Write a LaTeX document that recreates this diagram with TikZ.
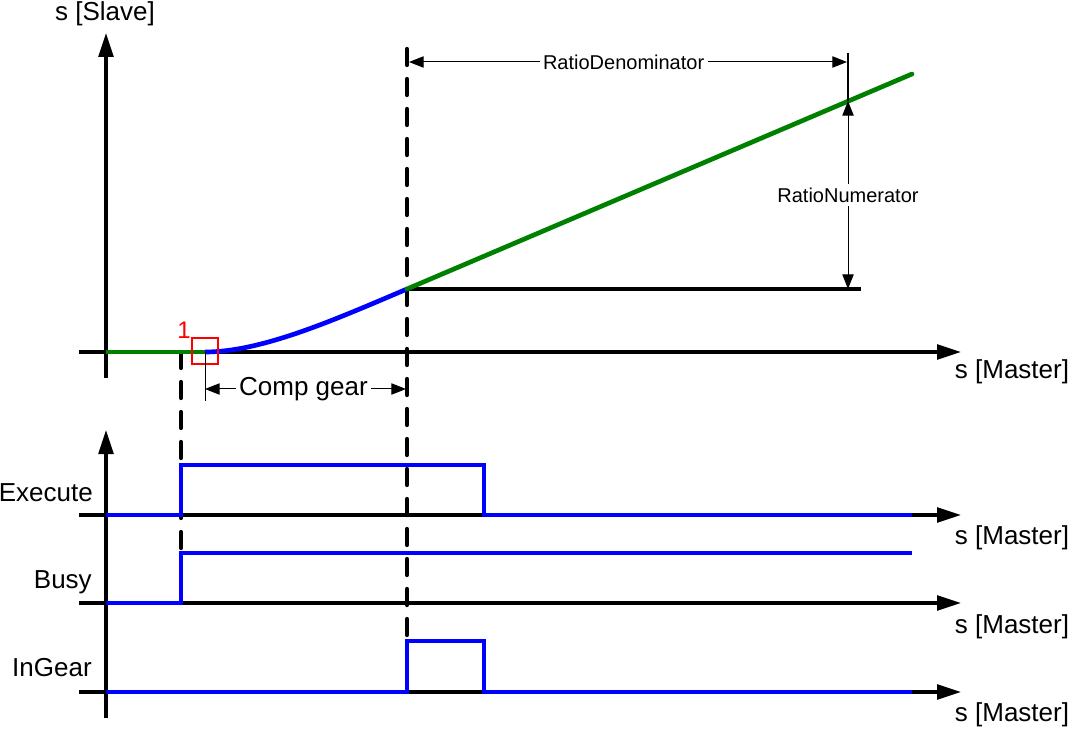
\documentclass[tikz,border=0pt]{standalone}
\usepackage{fontspec}
\setmainfont{Liberation Sans}
\usetikzlibrary{arrows.meta}
\definecolor{sigblue}{RGB}{0,0,255}
\definecolor{siggreen}{RGB}{0,128,0}
\definecolor{sigred}{RGB}{255,0,0}
\begin{document}
\begin{tikzpicture}[x=0.75pt,y=-0.75pt,
  axisline/.style={line width=2.5pt,-{Triangle[length=18pt,width=11pt]}},
  baseline/.style={line width=2.5pt},
  sig/.style={line width=3.4pt,draw=sigblue,line join=miter},
  slope/.style={line width=3.5pt,draw=siggreen},
  dashline/.style={line width=3.2pt,dash pattern=on 12pt off 10.5pt,line cap=round},
  dim/.style={line width=0.75pt,{Triangle[length=11pt,width=8.5pt]}-{Triangle[length=11pt,width=8.5pt]}},
  tick/.style={line width=0.75pt},
  lbl/.style={font=\fontsize{19.5}{23}\selectfont,inner sep=0pt},
  dimlbl/.style={font=\fontsize{15}{18}\selectfont,fill=white,inner sep=2.5pt},
  bigdimlbl/.style={font=\fontsize{19.5}{23}\selectfont,fill=white,inner sep=2.5pt}
]
\useasboundingbox (0,0) rectangle (1070,730);

% ---------- upper diagram ----------
\coordinate (yaxB) at (106,378);
\coordinate (yaxT) at (106,33);
\coordinate (xaxL) at (79,352);
\coordinate (xaxR) at (961,352);
\draw[axisline] (yaxB) -- (yaxT);
\draw[axisline] (xaxL) -- (xaxR);
\node[lbl] (slavelbl) at (105,14) {s [Slave]};
\node[lbl] (master0) at (1012,372) {s [Master]};

% dashed marker lines
\coordinate (d1T) at (181,352);
\coordinate (d1B) at (181,553);
\coordinate (d2T) at (407,49);
\coordinate (d2B) at (407,641);
\draw[dashline] (d1T) -- (d1B);
\draw[dashline] (d2T) -- (d2B);

% reference level line
\coordinate (refL) at (407,289);
\coordinate (refR) at (861,289);
\draw[baseline] (refL) -- (refR);

% curves
\coordinate (g0) at (106,352);
\coordinate (g1) at (205,352);
\coordinate (g2) at (407,289);
\coordinate (g3) at (912,74);
\draw[slope] (g0) -- (g1);
\draw[line width=3.5pt,draw=sigblue] (g1) .. controls (262,352) and (335,319.6) .. (g2);
\draw[slope,line cap=round] (g2) -- (g3);

% red marker
\node[draw=sigred,line width=2pt,minimum width=19.5pt,minimum height=19.5pt,inner sep=0pt] (mark) at (205,351) {};
\node[font=\fontsize{18}{21}\selectfont,text=sigred,inner sep=0pt] (marknum) at (184,330) {1};

% RatioDenominator
\coordinate (rtT) at (848,53);
\coordinate (rtB) at (848,101);
\draw[line width=2.2pt] (rtT) -- (rtB);
\coordinate (rdL) at (409,62);
\coordinate (rdR) at (847,62);
\draw[dim] (rdL) -- node[dimlbl,pos=0.49] (rdlbl) {RatioDenominator} (rdR);

% RatioNumerator
\coordinate (rnT) at (848,101);
\coordinate (rnB) at (848,289);
\draw[dim] (rnT) -- node[dimlbl] (rnlbl) {RatioNumerator} (rnB);

% Comp gear
\coordinate (cgT) at (205,352);
\coordinate (cgB) at (205,401);
\draw[tick] (cgT) -- (cgB);
\coordinate (cgL) at (205,389);
\coordinate (cgR) at (406,389);
\draw[dim] (cgL) -- node[bigdimlbl,pos=0.49] (cglbl) {Comp gear} (cgR);

% ---------- lower diagram ----------
\coordinate (ly0) at (106,718);
\coordinate (ly1) at (106,430);
\draw[axisline] (ly0) -- (ly1);

\coordinate (exL) at (79,515);
\coordinate (exR) at (961,515);
\coordinate (buL) at (79,603);
\coordinate (buR) at (961,603);
\coordinate (igL) at (79,692);
\coordinate (igR) at (961,692);
\draw[axisline] (exL) -- (exR);
\draw[axisline] (buL) -- (buR);
\draw[axisline] (igL) -- (igR);

\node[lbl,anchor=east] (exlbl) at (93,493) {Execute};
\node[lbl,anchor=east] (bulbl) at (92,582) {Busy};
\node[lbl,anchor=east] (iglbl) at (92,668) {InGear};
\node[lbl] (master1) at (1012,538) {s [Master]};
\node[lbl] (master2) at (1012,627) {s [Master]};
\node[lbl] (master3) at (1012,715) {s [Master]};

\draw[sig] (106,515) -- (181,515) -- (181,465) -- (484,465) -- (484,515) -- (912,515);
\draw[sig] (106,603) -- (181,603) -- (181,553) -- (912,553);
\draw[sig] (106,692) -- (407,692) -- (407,641) -- (484,641) -- (484,692) -- (912,692);
\end{tikzpicture}
\end{document}
